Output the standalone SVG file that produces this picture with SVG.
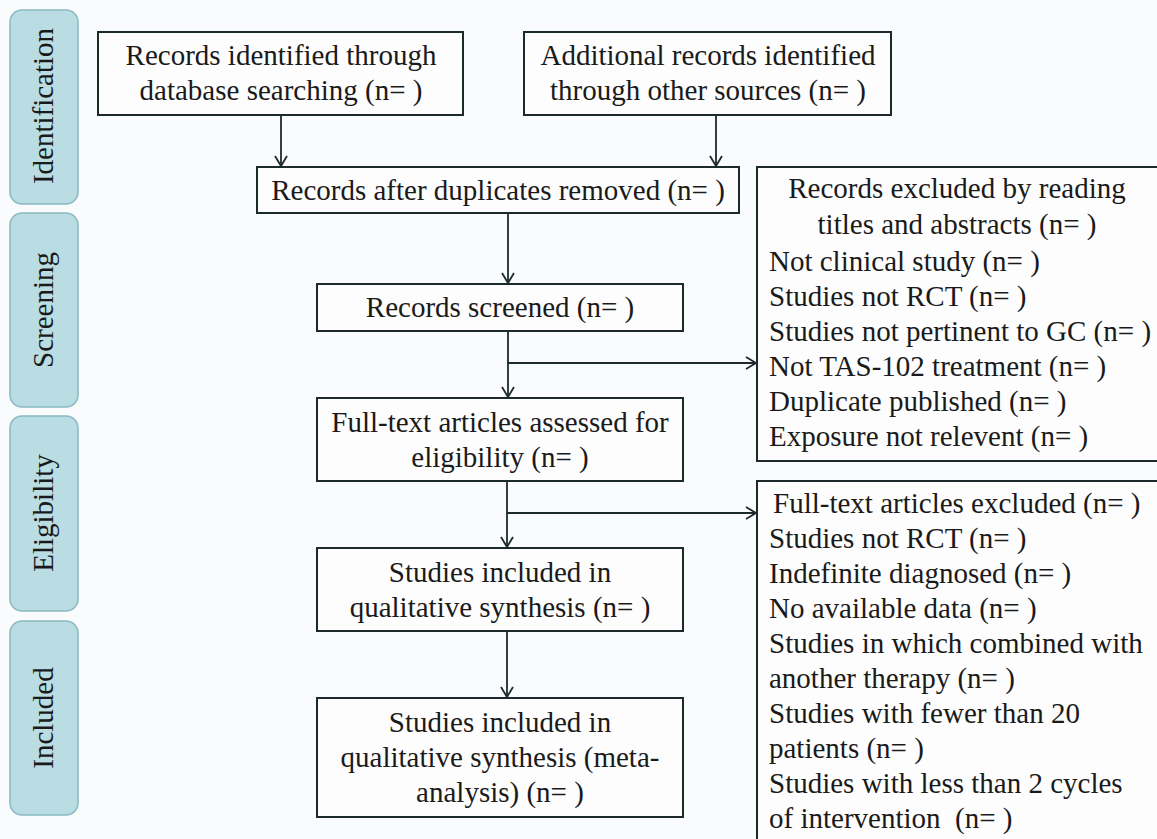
<svg xmlns="http://www.w3.org/2000/svg" width="1157" height="839" viewBox="0 0 1157 839">
<defs>
<style>
.tab{fill:#b9dde3;stroke:#86b9c1;stroke-width:1.5}
.box{fill:#fdfdfd;stroke:#1d2a2c;stroke-width:2}
.t{font-family:"Liberation Serif","Times New Roman",serif;font-size:29px;fill:#1a1a1a}
.c{text-anchor:middle}
.ln{stroke:#1d2a2c;stroke-width:1.8;fill:none}
</style>
<marker id="arr" markerUnits="userSpaceOnUse" markerWidth="16" markerHeight="16" refX="11" refY="7" orient="auto">
<path d="M1,1 L11,7 L1,13" fill="none" stroke="#1d2a2c" stroke-width="1.8"/>
</marker>
</defs>
<rect x="0" y="0" width="1157" height="839" fill="#fafbfd"/>

<g id="tab-identification">
<rect class="tab" x="10" y="10" width="68" height="194" rx="12"/>
<text class="t c" transform="translate(53,106) rotate(-90)">Identification</text>
</g>
<g id="tab-screening">
<rect class="tab" x="10" y="213" width="68" height="194" rx="12"/>
<text class="t c" transform="translate(53,310) rotate(-90)">Screening</text>
</g>
<g id="tab-eligibility">
<rect class="tab" x="10" y="416" width="68" height="195" rx="12"/>
<text class="t c" transform="translate(53,513) rotate(-90)">Eligibility</text>
</g>
<g id="tab-included">
<rect class="tab" x="10" y="621" width="68" height="194" rx="12"/>
<text class="t c" transform="translate(53,718) rotate(-90)">Included</text>
</g>

<g id="connectors">
<line class="ln" x1="281" y1="115" x2="281" y2="166" marker-end="url(#arr)"/>
<line class="ln" x1="716" y1="115" x2="716" y2="166" marker-end="url(#arr)"/>
<line class="ln" x1="508" y1="213" x2="508" y2="283" marker-end="url(#arr)"/>
<line class="ln" x1="508" y1="331" x2="508" y2="397" marker-end="url(#arr)"/>
<line class="ln" x1="508" y1="363" x2="756" y2="363" marker-end="url(#arr)"/>
<line class="ln" x1="507" y1="481" x2="507" y2="547" marker-end="url(#arr)"/>
<line class="ln" x1="507" y1="513" x2="756" y2="513" marker-end="url(#arr)"/>
<line class="ln" x1="507" y1="631" x2="507" y2="697" marker-end="url(#arr)"/>
</g>

<g id="n-database">
<rect class="box" x="98" y="32" width="365" height="83"/>
<text class="t c" x="281" y="65">Records identified through</text>
<text class="t c" x="281" y="100">database searching (n= )</text>
</g>
<g id="n-other">
<rect class="box" x="524" y="32" width="367" height="83"/>
<text class="t c" x="708" y="65">Additional records identified</text>
<text class="t c" x="708" y="100">through other sources (n= )</text>
</g>
<g id="n-duplicates">
<rect class="box" x="257" y="167" width="482" height="46"/>
<text class="t c" x="498" y="200">Records after duplicates removed (n= )</text>
</g>
<g id="n-screened">
<rect class="box" x="317" y="284" width="366" height="47"/>
<text class="t c" x="500" y="317">Records screened (n= )</text>
</g>
<g id="n-fulltext">
<rect class="box" x="317" y="398" width="366" height="83"/>
<text class="t c" x="500" y="432">Full-text articles assessed for</text>
<text class="t c" x="500" y="467">eligibility (n= )</text>
</g>
<g id="n-qualitative">
<rect class="box" x="317" y="548" width="366" height="83"/>
<text class="t c" x="500" y="582">Studies included in</text>
<text class="t c" x="500" y="617">qualitative synthesis (n= )</text>
</g>
<g id="n-meta">
<rect class="box" x="317" y="698" width="366" height="119"/>
<text class="t c" x="500" y="732">Studies included in</text>
<text class="t c" x="500" y="767">qualitative synthesis (meta-</text>
<text class="t c" x="500" y="802">analysis) (n= )</text>
</g>
<g id="n-excluded-titles">
<rect class="box" x="757" y="167" width="420" height="294"/>
<text class="t c" x="957" y="198">Records excluded by reading</text>
<text class="t c" x="957" y="234">titles and abstracts (n= )</text>
<text class="t" x="769" y="271">Not clinical study (n= )</text>
<text class="t" x="769" y="306">Studies not RCT (n= )</text>
<text class="t" x="769" y="341">Studies not pertinent to GC (n= )</text>
<text class="t" x="769" y="376">Not TAS-102 treatment (n= )</text>
<text class="t" x="769" y="411">Duplicate published (n= )</text>
<text class="t" x="769" y="446">Exposure not relevent (n= )</text>
</g>
<g id="n-excluded-fulltext">
<rect class="box" x="757" y="481" width="420" height="380"/>
<text class="t" x="773" y="513">Full-text articles excluded (n= )</text>
<text class="t" x="769" y="548">Studies not RCT (n= )</text>
<text class="t" x="769" y="583">Indefinite diagnosed (n= )</text>
<text class="t" x="769" y="618">No available data (n= )</text>
<text class="t" x="769" y="653">Studies in which combined with</text>
<text class="t" x="769" y="688">another therapy (n= )</text>
<text class="t" x="769" y="723">Studies with fewer than 20</text>
<text class="t" x="769" y="758">patients (n= )</text>
<text class="t" x="769" y="793">Studies with less than 2 cycles</text>
<text class="t" x="769" y="828" xml:space="preserve">of intervention  (n= )</text>
</g>
</svg>
